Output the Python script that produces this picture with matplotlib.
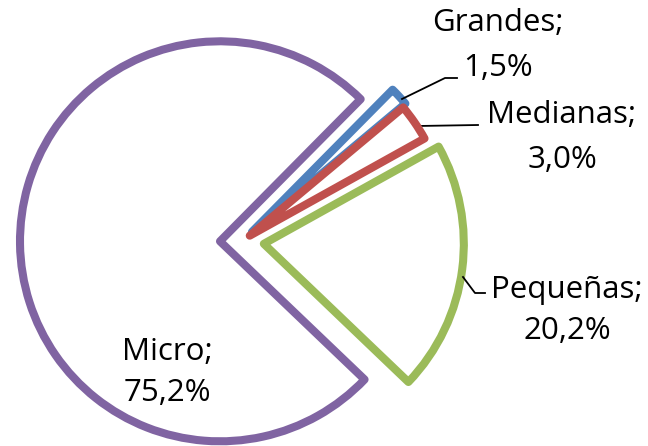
import matplotlib.pyplot as plt

# tamaño de empresa y su participación (%)
labels = ['Micro', 'Pequeñas', 'Medianas', 'Grandes']
shares = [75.2, 20.2, 3.0, 1.5]
pct_text = ['75,2%', '20,2%', '3,0%', '1,5%']
colors = ['#8064A2', '#9BBB59', '#C0504D', '#4F81BD']

H = 446  # alto en pixeles, para pasar de y-pantalla a y-datos

fig = plt.figure(figsize=(6.48, 4.46), dpi=100)
ax = fig.add_axes([0, 0, 1, 1])

wedges, _ = ax.pie(shares, radius=200, center=(242, H - 241), startangle=45.3,
                   counterclock=True, explode=[22, 22, 9.4, 13.5], normalize=True,
                   wedgeprops=dict(facecolor='none', linewidth=5.8, joinstyle='round'))
for w, c in zip(wedges, colors):
    w.set_edgecolor(c)
wedges[2].set_zorder(3)

ax.set_xlim(0, 648)
ax.set_ylim(0, H)
ax.axis('off')

font = dict(family=['Open Sans', 'DejaVu Sans'], fontsize=22.5, ha='center', va='center')

# etiquetas (dos lineas cada una)
pos = {'Micro': (167, 352, 393), 'Pequeñas': (567, 290, 331),
       'Medianas': (562, 115, 160), 'Grandes': (498, 23, 68)}
for lab, pc in zip(labels, pct_text):
    x, y1, y2 = pos[lab]
    ax.text(x, H - y1, lab + ';', **font)
    ax.text(x, H - y2, pc, **font)

# lineas guia
guides = [[(402, 99), (445, 78), (457, 78)],
          [(418, 126), (478, 125)],
          [(463, 277), (475, 293), (485, 293)]]
for g in guides:
    ax.plot([p[0] for p in g], [H - p[1] for p in g], color='black', lw=1.3)

plt.savefig('out.png', dpi=100)
